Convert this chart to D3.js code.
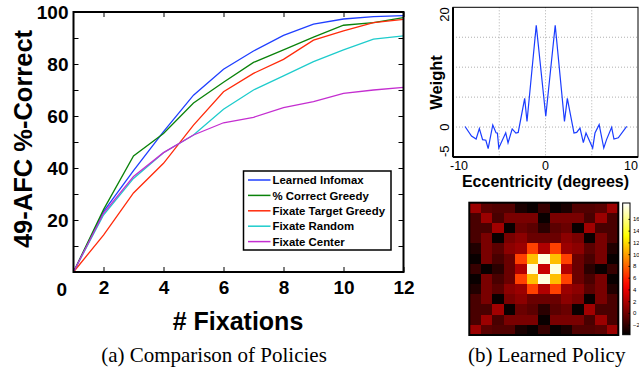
<!DOCTYPE html>
<html>
<head>
<meta charset="utf-8">
<script src="https://cdn.jsdelivr.net/npm/d3@7"></script>
<style>
  body { margin: 0; background: #fff; }
  svg { display: block; font-family: "Liberation Sans", Arial, Helvetica, sans-serif; }
</style>
</head>
<body>
<svg id="fig" width="639" height="371"></svg>
<script>
// (a) percent correct vs number of fixations
const fixations = [1, 2, 3, 4, 5, 6, 7, 8, 9, 10, 11, 12];
const learnedInfomax = [0, 23.2, 39, 54, 68, 78, 85, 91, 95.3, 97.3, 98.2, 98.6];
const correctGreedy  = [0, 24, 44.6, 53.3, 65, 73, 80.6, 85.4, 90.3, 94.9, 95.9, 97.8];
const targetGreedy   = [0, 14.2, 30.4, 41.8, 56.5, 69.3, 76.4, 81.8, 89.2, 92.7, 95.9, 97.2];
const fixateRandom   = [0, 21.9, 36, 45.9, 52.7, 62.6, 70, 75.4, 80.9, 85.4, 89.6, 90.8];
const fixateCenter   = [0, 22.6, 36.7, 45.9, 52.7, 57.4, 59.5, 63.2, 65.5, 68.7, 70, 71];
const seriesNames = ["Learned Infomax", "% Correct Greedy", "Fixate Target Greedy", "Fixate Random", "Fixate Center"];
const seriesColors = ["#1f3fff", "#0a820a", "#ff2a0a", "#1ecccc", "#c42ed0"];
const xTicks = [2, 4, 6, 8, 10, 12];
const yTicks = [0, 10, 20, 30, 40, 50, 60, 70, 80, 90, 100];

// (b) learned policy: radial weight profile
const eccentricity = [-8.7, -8.0, -7.5, -7.15, -6.8, -6.45, -6.2, -5.7, -5.35, -5.2, -5.05, -4.3, -4.05, -3.6, -3.2, -2.95,
  -2.25, -2.0, -1.0, 0.03, 1.05, 2.05, 2.36, 3.08, 3.37, 3.73, 4.09, 4.38, 5.1, 5.35, 5.8, 6.3, 6.6, 7.15, 7.4, 7.87, 8.78];
const weight = [0.1, -1.5, -2.0, -0.25, -2.1, -2.2, -3.6, 0.35, -0.95, -1.0, -3.5, -0.95, -2.65, -0.3, -1.0, -0.9,
  4.8, 0.93, 17.0, 1.8, 17.0, 0.93, 4.8, -1.0, -0.9, -0.17, -2.6, -1.0, -3.5, -1.0, 0.4, -3.5, -2.1, -0.05, -2.0, -1.8, 0.1];
const weightGridY = [0, 5, 10, 15];
const weightGridX = [-5, 0, 5];

// (b) learned policy as a 13x13 map
const policyMap = [
  [ 1.4, -0.7, -1.0, -1.0, -2.8, -3.4, -1.9, -3.4, -2.8, -1.0, -1.0, -0.7,  1.4],
  [-1.3,  1.4, -1.3,  0.3,  0.3,  0.3, -3.4,  0.3,  0.3,  0.3, -1.3,  1.4, -1.3],
  [-1.3, -1.3,  1.6, -3.4, -0.2, -0.7, -2.3, -0.7, -0.2, -3.4,  1.6, -1.3, -1.3],
  [-1.3,  0.3, -3.4,  0.3,  0.9, -0.2, -0.2, -0.2,  0.9,  0.3, -3.4,  0.3, -1.3],
  [-2.6,  0.3, -0.7,  0.9,  1.4,  6.8,  2.1,  6.8,  1.4,  0.9, -0.7,  0.3, -2.6],
  [-3.4,  0.3, -1.3, -0.2,  6.8, 11.0, 18.0, 11.0,  6.8, -0.2, -1.3,  0.3, -3.4],
  [-1.9, -3.4, -2.3, -0.2,  2.1, 18.0,  2.9, 18.0,  2.1, -0.2, -2.3, -3.4, -1.9],
  [-3.4,  0.3, -1.3, -0.2,  6.8, 11.0, 18.0, 11.0,  6.8, -0.2, -1.3,  0.3, -3.4],
  [-2.6,  0.3, -0.7,  0.9,  1.4,  6.8,  2.1,  6.8,  1.4,  0.9, -0.7,  0.3, -2.6],
  [-1.3,  0.3, -3.4,  0.3,  0.9, -0.2, -0.2, -0.2,  0.9,  0.3, -3.4,  0.3, -1.3],
  [-1.3, -1.3,  1.6, -3.4, -0.2, -0.7, -2.3, -0.7, -0.2, -3.4,  1.6, -1.3, -1.3],
  [-1.3,  1.4, -1.3,  0.3,  0.3,  0.3, -3.4,  0.3,  0.3,  0.3, -1.3,  1.4, -1.3],
  [ 1.4, -0.7, -1.0, -1.0, -2.8, -3.4, -1.9, -3.4, -2.8, -1.0, -1.0, -0.7,  1.4]
];
const colorbarTicks = [-2, 0, 2, 4, 6, 8, 10, 12, 14, 16];

const svg = d3.select("#fig");

// ---------- (a) comparison of policies ----------
const x = d3.scaleLinear().domain([1, 12]).range([73.5, 403.5]);
const y = d3.scaleLinear().domain([0, 100]).range([272, 12]);
const allSeries = [learnedInfomax, correctGreedy, targetGreedy, fixateRandom, fixateCenter];

const line = d3.line()
  .x((d, i) => x(fixations[i]))
  .y(d => y(d));

svg.append("g")
  .selectAll("path")
  .data(allSeries)
  .join("path")
  .attr("fill", "none")
  .attr("stroke", (d, i) => seriesColors[i])
  .attr("stroke-width", 1.3)
  .attr("d", line);

function styleAxis(g, size) {
  g.select(".domain").remove();
  g.selectAll(".tick line").attr("stroke", "#000").attr("stroke-width", 1);
  g.selectAll("text").attr("font-size", size).attr("font-weight", "bold")
    .attr("fill", "#000").attr("font-family", null);
}

svg.append("g")
  .attr("transform", `translate(0,${y(0)})`)
  .call(d3.axisBottom(x).tickValues(xTicks).tickSizeInner(-5).tickSizeOuter(0).tickPadding(9))
  .call(g => styleAxis(g, 19));
svg.append("g")
  .attr("transform", `translate(0,${y(100)})`)
  .call(d3.axisTop(x).tickValues(xTicks).tickSizeInner(-5).tickSizeOuter(0).tickFormat(""))
  .call(g => styleAxis(g, 19));
svg.append("g")
  .attr("transform", `translate(${x(1)},0)`)
  .call(d3.axisLeft(y).tickValues(yTicks).tickSizeInner(-5).tickSizeOuter(0).tickPadding(5)
    .tickFormat(d => (d > 0 && d % 20 === 0) ? d : ""))
  .call(g => styleAxis(g, 19));
svg.append("g")
  .attr("transform", `translate(${x(12)},0)`)
  .call(d3.axisRight(y).tickValues(yTicks).tickSizeInner(-5).tickSizeOuter(0).tickFormat(""))
  .call(g => styleAxis(g, 19));

// the lone "0" under the left edge
svg.append("text")
  .attr("x", 61.7).attr("y", 295.5)
  .attr("text-anchor", "middle")
  .attr("font-size", 19).attr("font-weight", "bold")
  .text("0");

svg.append("rect")
  .attr("x", x(1)).attr("y", y(100))
  .attr("width", x(12) - x(1)).attr("height", y(0) - y(100))
  .attr("fill", "none").attr("stroke", "#000").attr("stroke-width", 2);

svg.append("text")
  .attr("transform", `translate(31.5,139) rotate(-90)`)
  .attr("text-anchor", "middle")
  .attr("font-size", 25.5).attr("font-weight", "bold")
  .text("49-AFC %-Correct");

svg.append("text")
  .attr("x", 238).attr("y", 330)
  .attr("text-anchor", "middle")
  .attr("font-size", 25).attr("font-weight", "bold")
  .text("# Fixations");

// legend
const legend = svg.append("g").attr("transform", "translate(243.5,171)");
legend.append("rect")
  .attr("width", 147.5).attr("height", 79)
  .attr("fill", "#fff").attr("stroke", "#000").attr("stroke-width", 1.5);
const item = legend.selectAll("g.item")
  .data(seriesNames)
  .join("g")
  .attr("class", "item")
  .attr("transform", (d, i) => `translate(0,${9 + i * 15.4})`);
item.append("line")
  .attr("x1", 4.5).attr("x2", 27)
  .attr("stroke", (d, i) => seriesColors[i]).attr("stroke-width", 1.5);
item.append("text")
  .attr("x", 29).attr("dy", "0.36em")
  .attr("font-size", 11.4).attr("font-weight", "bold")
  .text(d => d);

svg.append("text")
  .attr("x", 214).attr("y", 362)
  .attr("text-anchor", "middle")
  .attr("font-family", "'Liberation Serif', 'Times New Roman', serif")
  .attr("font-size", 21)
  .text("(a) Comparison of Policies");

// ---------- (b) weight profile ----------
const xw = d3.scaleLinear().domain([-10, 10]).range([453, 638]);
const yw = d3.scaleLinear().domain([-5, 20]).range([157, 7.3]);

svg.append("g")
  .selectAll("line")
  .data(weightGridY)
  .join("line")
  .attr("x1", xw(-10)).attr("x2", xw(10))
  .attr("y1", d => yw(d)).attr("y2", d => yw(d))
  .attr("stroke", "#b0b0b0").attr("stroke-dasharray", "1,2");
svg.append("g")
  .selectAll("line")
  .data(weightGridX)
  .join("line")
  .attr("x1", d => xw(d)).attr("x2", d => xw(d))
  .attr("y1", yw(20)).attr("y2", yw(-5))
  .attr("stroke", "#b0b0b0").attr("stroke-dasharray", "1,2");

svg.append("path")
  .datum(weight)
  .attr("fill", "none")
  .attr("stroke", "#1a3cff")
  .attr("stroke-width", 1.2)
  .attr("d", d3.line().x((d, i) => xw(eccentricity[i])).y(d => yw(d)));

svg.append("rect")
  .attr("x", xw(-10)).attr("y", yw(20))
  .attr("width", xw(10) - xw(-10)).attr("height", yw(-5) - yw(20))
  .attr("fill", "none").attr("stroke", "#000").attr("stroke-width", 1);
svg.append("line")
  .attr("x1", xw(-10)).attr("x2", xw(-10)).attr("y1", yw(20)).attr("y2", yw(-5))
  .attr("stroke", "#000").attr("stroke-width", 2);
svg.append("line")
  .attr("x1", xw(-10)).attr("x2", xw(10)).attr("y1", yw(-5)).attr("y2", yw(-5))
  .attr("stroke", "#000").attr("stroke-width", 2);

// rotated y tick labels, kept inside the axis span like the original
[[20, "end"], [0, "middle"], [-5, "start"]].forEach(([v, anchor]) => {
  svg.append("text")
    .attr("transform", `translate(449,${yw(v)}) rotate(-90)`)
    .attr("text-anchor", anchor)
    .attr("font-size", 13)
    .text(v);
});
[[-10, "start", -3], [0, "middle", 0], [10, "end", 0]].forEach(([v, anchor, dx]) => {
  svg.append("text")
    .attr("x", xw(v) + dx).attr("y", 170)
    .attr("text-anchor", anchor)
    .attr("font-size", 12.5)
    .text(v);
});

svg.append("text")
  .attr("transform", "translate(442,82.5) rotate(-90)")
  .attr("text-anchor", "middle")
  .attr("font-size", 16.5).attr("font-weight", "bold")
  .text("Weight");
svg.append("text")
  .attr("x", 545.5).attr("y", 186.5)
  .attr("text-anchor", "middle")
  .attr("font-size", 16).attr("font-weight", "bold")
  .text("Eccentricity (degrees)");

// ---------- (b) policy map ----------
function hot(t) {
  const r = Math.min(1, t / 0.375);
  const g = Math.max(0, Math.min(1, (t - 0.375) / 0.375));
  const b = Math.max(0, Math.min(1, (t - 0.75) / 0.25));
  return d3.rgb(r * 255, g * 255, b * 255).toString();
}
const color = d3.scaleSequential(hot).domain([-3.7, 18.7]);
const col = d3.scaleBand().domain(d3.range(13)).range([469.3, 618.3]);
const row = d3.scaleBand().domain(d3.range(13)).range([202.7, 335]);

svg.append("g")
  .attr("shape-rendering", "crispEdges")
  .selectAll("g")
  .data(policyMap)
  .join("g")
  .selectAll("rect")
  .data((r, i) => r.map((v, j) => ({ v, i, j })))
  .join("rect")
  .attr("x", d => col(d.j)).attr("y", d => row(d.i))
  .attr("width", col.bandwidth() + 0.6).attr("height", row.bandwidth() + 0.6)
  .attr("fill", d => color(d.v));

svg.append("rect")
  .attr("x", 469.3).attr("y", 202.7)
  .attr("width", 149).attr("height", 132.3)
  .attr("fill", "none").attr("stroke", "#000").attr("stroke-width", 2);

// colorbar
const cb = d3.scaleLinear().domain([-3.7, 18.7]).range([334.7, 203]);
const grad = svg.append("defs").append("linearGradient")
  .attr("id", "hotgrad").attr("x1", 0).attr("y1", 1).attr("x2", 0).attr("y2", 0);
grad.selectAll("stop")
  .data(d3.range(0, 1.0001, 0.05))
  .join("stop")
  .attr("offset", d => d)
  .attr("stop-color", d => hot(d));
svg.append("rect")
  .attr("x", 622.7).attr("y", 203)
  .attr("width", 7.3).attr("height", 131.7)
  .attr("fill", "url(#hotgrad)")
  .attr("stroke", "#000").attr("stroke-width", 1);
svg.append("g")
  .attr("transform", "translate(630,0)")
  .call(d3.axisRight(cb).tickValues(colorbarTicks).tickSizeInner(-1.5).tickSizeOuter(0).tickPadding(3))
  .call(g => {
    g.select(".domain").remove();
    g.selectAll(".tick line").attr("stroke", "#000");
    g.selectAll("text").attr("font-size", 6).attr("font-family", null).attr("fill", "#000");
  });

svg.append("text")
  .attr("x", 546.7).attr("y", 362)
  .attr("text-anchor", "middle")
  .attr("font-family", "'Liberation Serif', 'Times New Roman', serif")
  .attr("font-size", 21)
  .text("(b) Learned Policy");
</script>
</body>
</html>
